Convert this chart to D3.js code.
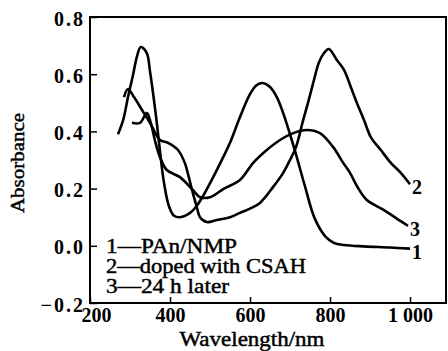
<!DOCTYPE html>
<html>
<head>
<meta charset="utf-8">
<script src="https://cdn.jsdelivr.net/npm/d3@7"></script>
<style>
  body { margin: 0; background: #fff; }
  svg text { font-family: "Liberation Serif", "Times New Roman", Times, serif; fill: #000; }
  .thick { stroke: #000; stroke-width: 0.45px; }
</style>
</head>
<body>
<div id="chart"></div>
<script>
// curve 1 - PAn/NMP
const wl1 = [270, 283, 295, 308, 317, 327, 342, 350, 358, 367, 375, 385, 397, 410, 425, 450, 467, 483, 508, 533, 550, 575, 600, 617, 632, 650, 667, 683, 700, 715, 737, 762, 790, 810, 835, 885, 950, 1000];
const ab1 = [0.39, 0.44, 0.52, 0.60, 0.66, 0.695, 0.674, 0.61, 0.53, 0.43, 0.33, 0.22, 0.14, 0.105, 0.10, 0.115, 0.14, 0.175, 0.24, 0.31, 0.36, 0.45, 0.53, 0.562, 0.569, 0.555, 0.52, 0.464, 0.39, 0.32, 0.21, 0.095, 0.03, 0.01, 0.003, -0.002, -0.006, -0.01];
// curve 2 - doped with CSAH
const wl2 = [285, 295, 310, 330, 350, 375, 395, 420, 437, 447, 458, 467, 475, 492, 517, 550, 575, 600, 625, 658, 683, 700, 715, 733, 745, 760, 772, 785, 797, 817, 835, 852, 867, 885, 902, 927, 952, 977, 1000];
const ab2 = [0.52, 0.548, 0.52, 0.475, 0.43, 0.37, 0.36, 0.335, 0.29, 0.24, 0.18, 0.136, 0.10, 0.083, 0.09, 0.10, 0.115, 0.13, 0.15, 0.206, 0.255, 0.30, 0.345, 0.44, 0.50, 0.58, 0.64, 0.674, 0.688, 0.65, 0.615, 0.555, 0.50, 0.44, 0.38, 0.335, 0.29, 0.255, 0.215];
// curve 3 - 24 h later
const wl3 = [305, 325, 342, 352, 362, 375, 392, 425, 457, 475, 500, 535, 575, 608, 642, 675, 708, 742, 775, 808, 833, 850, 867, 892, 935, 967, 995];
const ab3 = [0.43, 0.43, 0.464, 0.43, 0.37, 0.31, 0.265, 0.24, 0.195, 0.17, 0.17, 0.2, 0.23, 0.29, 0.335, 0.37, 0.394, 0.405, 0.394, 0.345, 0.29, 0.255, 0.21, 0.16, 0.125, 0.095, 0.07];

const curveIds = ['1', '2', '3'];
const legendLines = ['1\u2014PAn/NMP', '2\u2014doped with CSAH', '3\u201424 h later'];
const xTicks = [200, 400, 600, 800, 1000];
const xTickLabels = ['200', '400', '600', '800', '1 000'];
const yTicks = [-0.2, 0.0, 0.2, 0.4, 0.6, 0.8];
const yTickLabels = ['\u22120.2', '0.0', '0.2', '0.4', '0.6', '0.8'];

const width = 448, height = 351;
const margin = {top: 17, right: 2, bottom: 48, left: 90};
const serif = '"Liberation Serif", "Times New Roman", Times, serif';

const svg = d3.select('#chart')
    .append('svg')
        .attr('width', width)
        .attr('height', height);

const x = d3.scaleLinear()
    .domain([200, 1090])
    .range([margin.left, width - margin.right]);
const y = d3.scaleLinear()
    .domain([-0.2, 0.8])
    .range([height - margin.bottom, margin.top]);

const series = [
    {id: curveIds[0], pts: wl1.map((w, i) => [w, ab1[i]])},
    {id: curveIds[1], pts: wl2.map((w, i) => [w, ab2[i]])},
    {id: curveIds[2], pts: wl3.map((w, i) => [w, ab3[i]])}
];

// frame
svg.append('rect')
    .attr('x', x(200))
    .attr('y', y(0.8))
    .attr('width', x(1090) - x(200))
    .attr('height', y(-0.2) - y(0.8))
    .attr('fill', 'none')
    .attr('stroke', '#000')
    .attr('stroke-width', 2);

// axes, ticks pointing inward
svg.append('g')
    .attr('transform', `translate(0, ${y(-0.2)})`)
    .call(d3.axisTop(x).tickValues(xTicks).tickSize(6).tickFormat(''))
    .call(g => g.select('.domain').remove())
    .call(g => g.selectAll('.tick line').attr('stroke-width', 1.5));
svg.append('g')
    .attr('transform', `translate(0, ${y(-0.2)})`)
    .attr('font-family', serif)
    .call(d3.axisBottom(x).tickValues(xTicks).tickSize(0).tickPadding(5)
        .tickFormat((d, i) => xTickLabels[i]))
    .call(g => g.select('.domain').remove())
    .call(g => g.selectAll('.tick text')
        .attr('dx', (d, i) => i === 0 ? 6 : 0)
        .style('font-size', '20px')
        .style('font-weight', 'bold'));

svg.append('g')
    .attr('transform', `translate(${x(200)}, 0)`)
    .call(d3.axisRight(y).tickValues(yTicks).tickSize(7).tickFormat(''))
    .call(g => g.select('.domain').remove())
    .call(g => g.selectAll('.tick line').attr('stroke-width', 1.5));
svg.append('g')
    .attr('transform', `translate(${x(200)}, 0)`)
    .attr('font-family', serif)
    .call(d3.axisLeft(y).tickValues(yTicks).tickSize(0).tickPadding(5)
        .tickFormat((d, i) => yTickLabels[i]))
    .call(g => g.select('.domain').remove())
    .call(g => g.selectAll('.tick text')
        .attr('dy', '0.4em')
        .style('font-size', '20px')
        .style('font-weight', 'bold')
        .style('letter-spacing', '2px'));

// axis titles
svg.append('text')
    .attr('class', 'thick')
    .attr('x', 252)
    .attr('y', 346)
    .attr('text-anchor', 'middle')
    .attr('textLength', 145)
    .attr('lengthAdjust', 'spacingAndGlyphs')
    .style('font-size', '20px')
    .text('Wavelength/nm');
svg.append('text')
    .attr('class', 'thick')
    .attr('transform', 'translate(24, 163) rotate(-90)')
    .attr('text-anchor', 'middle')
    .attr('textLength', 100)
    .attr('lengthAdjust', 'spacingAndGlyphs')
    .style('font-size', '19px')
    .text('Absorbance');

// curves
const line = d3.line()
    .curve(d3.curveCatmullRom.alpha(0.5))
    .x(d => x(d[0]))
    .y(d => y(d[1]));

svg.append('g')
    .selectAll('path')
    .data(series)
    .join('path')
        .attr('fill', 'none')
        .attr('stroke', '#000')
        .attr('stroke-width', 2.6)
        .attr('stroke-linejoin', 'round')
        .attr('d', d => line(d.pts));

// curve end labels
svg.append('g')
    .selectAll('text')
    .data(series)
    .join('text')
        .attr('x', d => x(d.pts[d.pts.length - 1][0]) + 2)
        .attr('y', d => y(d.pts[d.pts.length - 1][1]) + 3)
        .attr('dy', '0.35em')
        .style('font-size', '20px')
        .style('font-weight', 'bold')
        .text(d => d.id);

// legend text
const legendWidths = [131, 200, 123];
svg.append('g')
    .selectAll('text')
    .data(legendLines)
    .join('text')
        .attr('class', 'thick')
        .attr('x', 106)
        .attr('y', (d, i) => 253 + i * 20)
        .attr('textLength', (d, i) => legendWidths[i])
        .attr('lengthAdjust', 'spacingAndGlyphs')
        .style('font-size', '20px')
        .text(d => d);
</script>
</body>
</html>
